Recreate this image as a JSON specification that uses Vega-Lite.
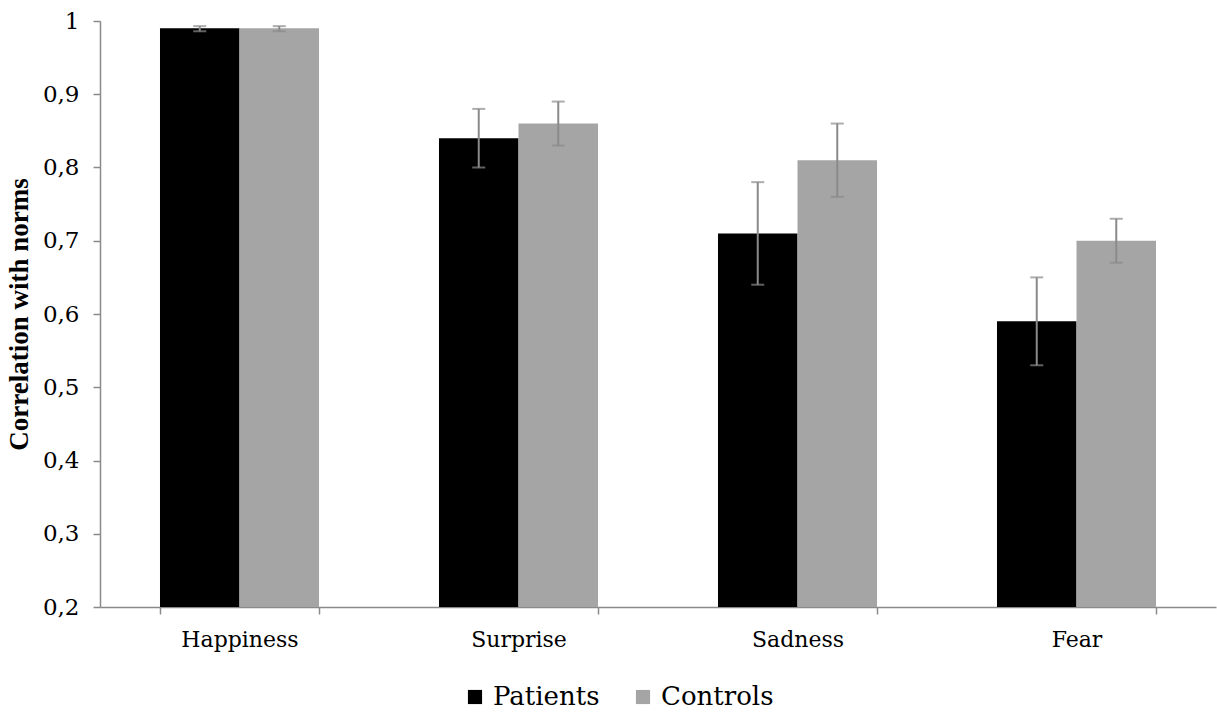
{
  "$schema": "https://vega.github.io/schema/vega-lite/v6.json",
  "width": 1116,
  "height": 586,
  "autosize": "none",
  "padding": {"left": 100, "top": 21, "right": 1, "bottom": 105},
  "background": "white",
  "config": {
    "view": {"stroke": null},
    "axis": {
      "domainColor": "#8a8a8a",
      "tickColor": "#8a8a8a",
      "labelColor": "#000000",
      "titleColor": "#000000",
      "grid": false,
      "domainWidth": 1.5,
      "tickWidth": 1.5
    }
  },
  "data": {
    "values": [
      {"emotion": "Happiness", "group": "Patients", "value": 0.99, "lo": 0.986, "hi": 0.993},
      {"emotion": "Happiness", "group": "Controls", "value": 0.99, "lo": 0.986, "hi": 0.993},
      {"emotion": "Surprise", "group": "Patients", "value": 0.84, "lo": 0.80, "hi": 0.88},
      {"emotion": "Surprise", "group": "Controls", "value": 0.86, "lo": 0.83, "hi": 0.89},
      {"emotion": "Sadness", "group": "Patients", "value": 0.71, "lo": 0.64, "hi": 0.78},
      {"emotion": "Sadness", "group": "Controls", "value": 0.81, "lo": 0.76, "hi": 0.86},
      {"emotion": "Fear", "group": "Patients", "value": 0.59, "lo": 0.53, "hi": 0.65},
      {"emotion": "Fear", "group": "Controls", "value": 0.70, "lo": 0.67, "hi": 0.73}
    ]
  },
  "encoding": {
    "x": {
      "field": "emotion",
      "type": "nominal",
      "sort": ["Happiness", "Surprise", "Sadness", "Fear"],
      "scale": {"paddingInner": 0.43, "paddingOuter": 0.215},
      "axis": {
        "title": null,
        "labelAngle": 0,
        "labelFont": "DejaVu Serif",
        "labelFontSize": 22,
        "labelPadding": 15,
        "tickSize": 7,
        "tickBand": "extent"
      }
    },
    "xOffset": {"field": "group", "type": "nominal", "sort": ["Patients", "Controls"]}
  },
  "layer": [
    {
      "mark": {"type": "bar"},
      "encoding": {
        "y": {
          "field": "value",
          "type": "quantitative",
          "scale": {"domain": [0.2, 1], "nice": false, "zero": false},
          "axis": {
            "title": "Correlation with norms",
            "titleFont": "Liberation Serif",
            "titleFontSize": 27,
            "titleFontWeight": "bold",
            "titlePadding": 9,
            "labelFont": "DejaVu Serif",
            "labelFontSize": 23,
            "labelPadding": 14,
            "tickSize": 7,
            "values": [0.2, 0.3, 0.4, 0.5, 0.6, 0.7, 0.8, 0.9, 1],
            "labelExpr": "datum.value >= 0.999 ? '1' : replace(format(datum.value, '.1f'), '.', ',')"
          }
        },
        "y2": {"datum": 0.2},
        "color": {
          "field": "group",
          "type": "nominal",
          "sort": ["Patients", "Controls"],
          "scale": {"domain": ["Patients", "Controls"], "range": ["#000000", "#a5a5a5"]},
          "legend": {
            "title": null,
            "orient": "none",
            "direction": "horizontal",
            "legendX": 362,
            "legendY": 663,
            "symbolType": "square",
            "symbolSize": 200,
            "symbolStrokeWidth": 0,
            "labelFont": "DejaVu Serif",
            "labelFontSize": 26,
            "labelOffset": 5,
            "columnPadding": 30,
            "labelColor": "#000000"
          }
        }
      }
    },
    {
      "mark": {"type": "rule", "color": "#8a8a8a", "strokeWidth": 2},
      "encoding": {
        "y": {"field": "lo", "type": "quantitative"},
        "y2": {"field": "hi"}
      }
    },
    {
      "mark": {"type": "tick", "color": "#8a8a8a", "size": 13, "thickness": 2},
      "encoding": {
        "y": {"field": "lo", "type": "quantitative"}
      }
    },
    {
      "mark": {"type": "tick", "color": "#8a8a8a", "size": 13, "thickness": 2},
      "encoding": {
        "y": {"field": "hi", "type": "quantitative"}
      }
    }
  ]
}
